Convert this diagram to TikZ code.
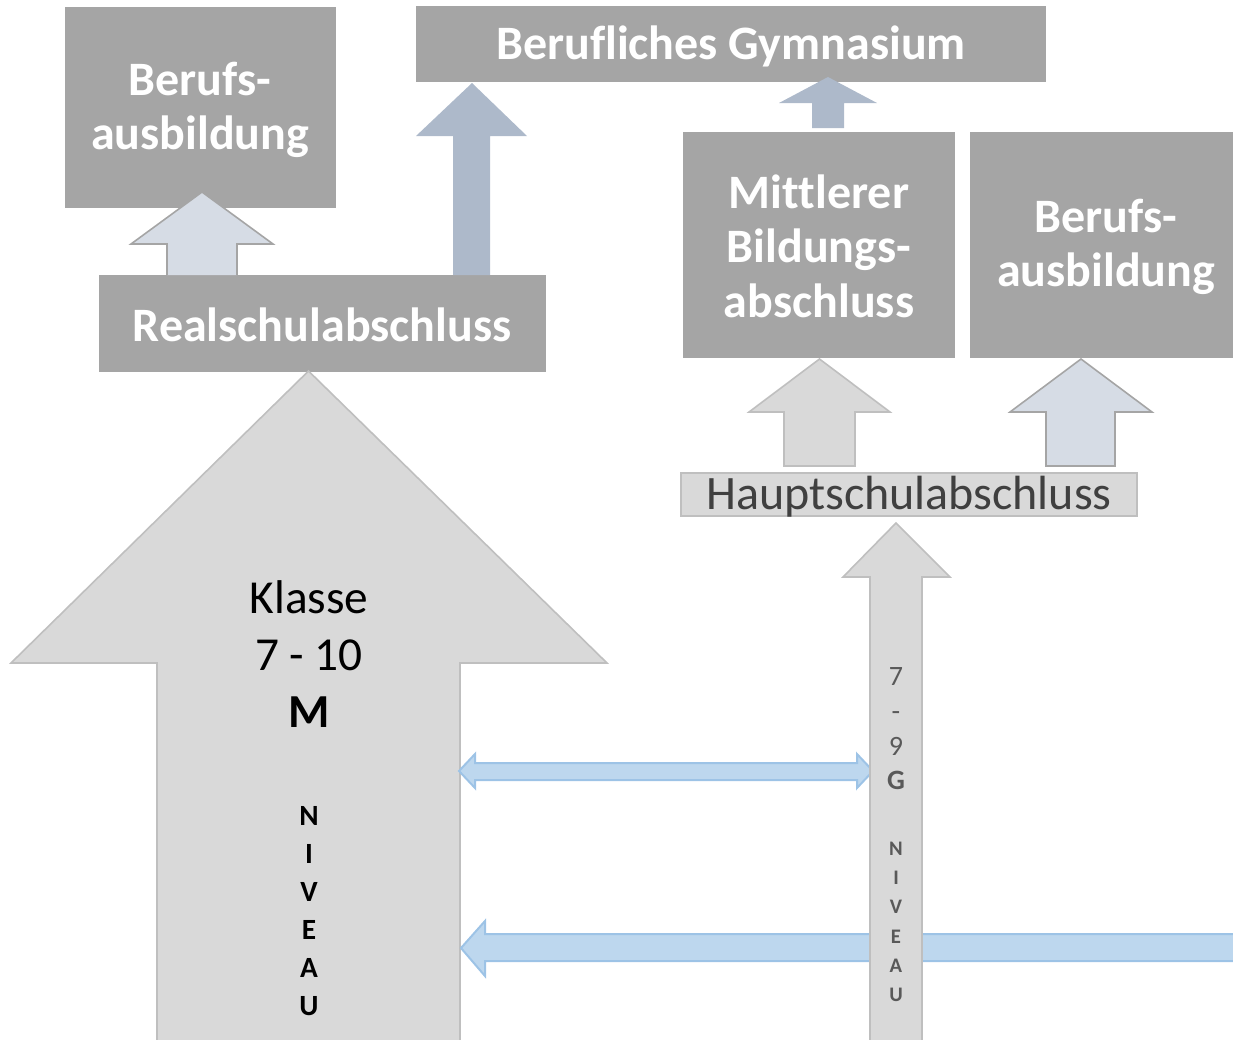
\documentclass[tikz,border=0pt]{standalone}
\usepackage{fontspec}
\setmainfont{Carlito}[Ligatures={TeX,NoCommon}]
\usepackage{tikz}

\definecolor{boxgray}{RGB}{165,165,165}
\definecolor{lightgray}{RGB}{217,217,217}
\definecolor{lightrim}{RGB}{191,191,191}
\definecolor{paleblue}{RGB}{214,220,229}
\definecolor{slateblue}{RGB}{173,185,202}
\definecolor{skyblue}{RGB}{189,215,238}
\definecolor{skyrim}{RGB}{157,195,230}
\definecolor{darktext}{RGB}{64,64,64}
\definecolor{midtext}{RGB}{89,89,89}

\newcommand\bxfont{\fontsize{36}{41}\selectfont\bfseries}

\begin{document}
\begin{tikzpicture}[x=0.75pt,y=0.75pt,yscale=-1,xscale=1,
    abox/.style={fill=boxgray,draw=none},
    atext/.style={inner sep=0pt,align=center,text=white,font=\bxfont},
    palearrow/.style={fill=paleblue,draw=boxgray,line width=1.2pt,line join=miter},
    slatearrow/.style={fill=slateblue,draw=none},
    grayarrow/.style={fill=lightgray,draw=lightrim,line width=1.2pt,line join=miter},
    skyarrow/.style={fill=skyblue,draw=skyrim,line width=1.5pt,line join=miter}]
    \useasboundingbox (0,0) rectangle (1233,1040); %set diagram to the size of the page

    %Shape: Rectangle
    \draw [abox] (65,7) rectangle (336,208) ;
    %Shape: Rectangle
    \draw [abox] (416,6) rectangle (1046,82) ;
    %Shape: Rectangle
    \draw [abox] (99,275) rectangle (546,372) ;
    %Shape: Rectangle
    \draw [abox] (683,132) rectangle (955,358) ;
    %Shape: Rectangle
    \draw [abox] (970,132) rectangle (1233,358) ;
    %Shape: Rectangle
    \draw [fill=lightgray,draw=lightrim,line width=1.5pt] (681,473) rectangle (1137,516) ;

    %Up Arrow
    \draw [palearrow] (167,275) -- (167,244) -- (131,244) -- (202,192) -- (273,244) -- (237,244) -- (237,275) ;
    %Up Arrow
    \draw [slatearrow] (453,275) -- (453,136) -- (416,136) -- (472,83) -- (527,136) -- (490,136) -- (490,275) -- cycle ;
    %Up Arrow
    \draw [slatearrow] (812,128) -- (812,103) -- (779,103) -- (828,77) -- (877,103) -- (844,103) -- (844,128) -- cycle ;
    %Up Arrow
    \draw [grayarrow] (784,466) -- (784,412) -- (749,412) -- (819.5,359) -- (890,412) -- (855,412) -- (855,466) -- cycle ;
    %Up Arrow
    \draw [palearrow] (1046,466) -- (1046,412) -- (1010,412) -- (1081,359) -- (1152,412) -- (1115,412) -- (1115,466) -- cycle ;

    %Up Arrow
    \draw [grayarrow] (157,1042) -- (157,663) -- (11,663) -- (308.5,371) -- (607,663) -- (460,663) -- (460,1042) ;

    %Left-Right Arrow
    \draw [skyarrow] (459,771) -- (475,754) -- (475,763) -- (857,763) -- (857,754) -- (873,771) -- (857,788) -- (857,780) -- (475,780) -- (475,788) -- cycle ;
    %Left Arrow
    \draw [skyarrow] (1236,961) -- (485,961) -- (485,976) -- (461,948) -- (485,921) -- (485,934) -- (1236,934) ;

    %Up Arrow
    \draw [grayarrow] (870,1042) -- (870,577) -- (843,577) -- (896,523) -- (950,577) -- (922,577) -- (922,1042) ;

    % Text Node
    \draw (200,110) node [atext] (berufL) {Berufs-\\ausbildung};
    % Text Node
    \draw (731,46) node [atext] (gymnasium) {Berufliches Gymnasium};
    % Text Node
    \draw (322,325) node [atext] (realschul) {Realschulabschluss};
    % Text Node
    \draw (819,246) node [atext] (mittlerer) {Mittlerer\\Bildungs-\\abschluss};
    % Text Node
    \draw (1106,247) node [atext] (berufR) {Berufs-\\ausbildung};
    % Text Node
    \draw (909,497) node [inner sep=0pt,text=darktext,font=\fontsize{36}{40}\selectfont] (hauptschul) {Hauptschulabschluss};

    % Text Node
    \draw (309,654) node [inner sep=0pt,align=center,font=\fontsize{35.5}{43}\selectfont] (klasse) {Klasse\\7 - 10\\\textbf{M}};
    % Text Node
    \draw (309,911) node [inner sep=0pt,align=center,font=\fontsize{22}{28.5}\selectfont\bfseries] (niveauM) {N\\I\\V\\E\\A\\U};

    % Text Node
    \draw (896,729) node [inner sep=0pt,align=center,text=midtext,font=\fontsize{21}{26}\selectfont] (stufeG) {7\\-\\9\\\textbf{G}};
    % Text Node
    \draw (896,922) node [inner sep=0pt,align=center,text=midtext,font=\fontsize{15.5}{22}\selectfont\bfseries] (niveauG) {N\\I\\V\\E\\A\\U};

\end{tikzpicture}
\end{document}
